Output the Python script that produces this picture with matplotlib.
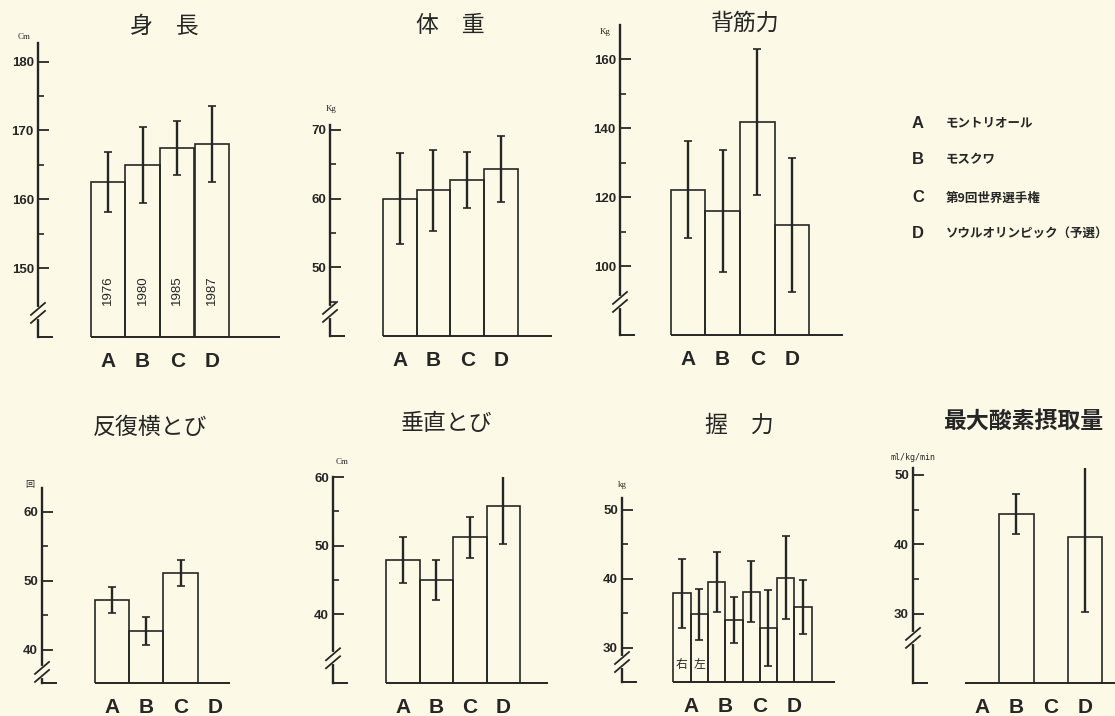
import numpy as np
import matplotlib.pyplot as plt

W, H = 1115, 716
BG = '#fcfae6'
INK = '#262626'
JP = ['Noto Sans CJK JP', 'DejaVu Sans']

plt.rcParams['font.family'] = ['Liberation Sans', 'Noto Sans CJK JP', 'DejaVu Sans']

letters = ['A', 'B', 'C', 'D']
legend_names = ['モントリオール', 'モスクワ', '第9回世界選手権', 'ソウルオリンピック（予選）']

# 身長 (cm)
height_mean = [162.5, 165.0, 167.5, 168.0]
height_sd = [4.3, 5.5, 3.9, 5.5]
years = ['1976', '1980', '1985', '1987']
# 体重 (kg)
weight_mean = [60.0, 61.2, 62.7, 64.3]
weight_sd = [6.6, 5.9, 4.1, 4.8]
# 背筋力 (kg)
back_mean = [122.2, 116.0, 141.8, 112.0]
back_sd = [14.0, 17.8, 21.3, 19.5]
# 反復横とび (回)
side_mean = [47.2, 42.7, 51.1, np.nan]
side_sd = [1.9, 2.0, 1.85, np.nan]
# 垂直とび (cm)
jump_mean = [47.9, 45.0, 51.2, 55.8]
jump_sd = [3.3, 2.85, 3.0, 5.5]
# 握力 (kg) 右 / 左
grip_right = [37.9, 39.5, 38.1, 40.15]
grip_right_sd = [5.0, 4.3, 4.4, 6.0]
grip_left = [34.8, 34.0, 32.8, 35.9]
grip_left_sd = [3.7, 3.3, 5.5, 3.9]
# 最大酸素摂取量 (ml/kg/min)
vo2_mean = [np.nan, 44.4, np.nan, 41.1]
vo2_sd = [np.nan, 2.9, np.nan, 10.9]

fig = plt.figure(figsize=(W / 100, H / 100), dpi=100, facecolor=BG)


def ftext(x, y, s, **kw):
    # place text with pixel coordinates of the page
    fig.text(x / W, 1 - y / H, s, **kw)


def title(x, y, s, **kw):
    ftext(x, y, s, ha='center', va='center', fontsize=16.5, family=JP, color=INK, **kw)


def panel(spine, right, top, base, ylim, bar_left, bar_w, major, minor, brk):
    ax = fig.add_axes([spine / W, 1 - base / H, (right - spine) / W, (base - top) / H])
    x0 = -0.5 - (bar_left - spine) / bar_w
    x1 = -0.5 + (right - bar_left) / bar_w
    ax.set_xlim(x0, x1)
    ax.set_ylim(*ylim)
    ax.patch.set_visible(False)
    for s in ['top', 'right', 'bottom']:
        ax.spines[s].set_visible(False)
    ax.spines['left'].set_linewidth(1.7)
    ax.spines['left'].set_color(INK)
    ax.set_yticks(major)
    ax.set_yticks(minor, minor=True)
    ax.tick_params(axis='y', which='major', direction='in', length=8, width=1.3,
                   color=INK, pad=3, labelsize=9.5, labelcolor=INK)
    ax.tick_params(axis='y', which='minor', direction='in', length=4.5, width=1.2, color=INK)
    for lab in ax.get_yticklabels():
        lab.set_fontweight('bold')
    # base line and small stub at the foot of the axis
    ax.hlines(ylim[0], -0.5, x1, color=INK, lw=1.4, clip_on=False)
    ax.hlines(ylim[0], x0, x0 + 15 / bar_w, color=INK, lw=1.4, clip_on=False)
    # break mark "//"
    ypp = (ylim[1] - ylim[0]) / (base - top)
    dx, dy, gap = 7 / bar_w, 6 * ypp, 4 * ypp
    ax.plot([x0, x0], [brk - gap, brk + gap], color=BG, lw=3, clip_on=False, zorder=5)
    for off in (-gap, gap):
        ax.plot([x0 - dx, x0 + dx], [brk + off - dy, brk + off + dy], color=INK,
                lw=1.3, clip_on=False, zorder=6)
    return ax


def bars(ax, x, vals, err, capsize=3):
    ax.bar(x, vals, width=1.0, bottom=0, facecolor='none', edgecolor=INK, linewidth=1.2, zorder=2)
    ax.errorbar(x, vals, yerr=err, fmt='none', ecolor=INK, elinewidth=1.7,
                capsize=capsize, capthick=1.2, zorder=3)


def xlabels(ax, pos):
    ax.set_xticks(pos)
    ax.set_xticklabels(letters, fontsize=15, fontweight='bold', color=INK)
    ax.tick_params(axis='x', length=0, pad=11)


idx = np.arange(4)

# 身長
ax1 = panel(38, 280, 43, 337, (140, 182.7), 90.7, 34.6,
            [150, 160, 170, 180], [155, 165, 175], 143.5)
bars(ax1, idx, height_mean, height_sd)
xlabels(ax1, idx)
for i, y in enumerate(years):
    ax1.text(i, 146.8, y, rotation=90, ha='center', va='center', fontsize=9.5, color=INK)
title(164, 26, '身　長')
ftext(24, 37, 'Cm', ha='center', va='center', fontsize=6.5, family='Liberation Serif', color=INK)

# 体重
ax2 = panel(330, 552, 125, 336, (40, 70.7), 382.7, 33.8,
            [50, 60, 70], [45, 55, 65], 43.5)
bars(ax2, idx, weight_mean, weight_sd)
xlabels(ax2, idx)
title(450, 26, '体　重')
ftext(331, 109, 'Kg', ha='center', va='center', fontsize=6.5, family='Liberation Serif', color=INK)

# 背筋力
ax3 = panel(620, 843, 25, 335, (80, 170), 670.7, 34.6,
            [100, 120, 140, 160], [110, 130, 150], 89.6)
bars(ax3, idx, back_mean, back_sd)
xlabels(ax3, idx)
title(745, 23, '背筋力')
ftext(605, 32, 'Kg', ha='center', va='center', fontsize=6.5, family='Liberation Serif', color=INK)

# legend
for i, (l, name) in enumerate(zip(letters, legend_names)):
    y = [123, 160, 198, 234][i]
    ftext(918, y, l, ha='center', va='center', fontsize=12, fontweight='bold', color=INK)
    ftext(946, y, name, ha='left', va='center', fontsize=9, fontweight='bold', family=JP, color=INK)

# 反復横とび
ax4 = panel(42, 230, 488, 683, (35.2, 63.4), 95, 34.2,
            [40, 50, 60], [45, 55], 36.8)
bars(ax4, idx, side_mean, side_sd)
xlabels(ax4, idx)
title(150, 427, '反復横とび')
ftext(30, 484, '回', ha='center', va='center', fontsize=6.5, family=JP, color=INK)

# 垂直とび
ax5 = panel(333, 548, 477, 683, (30, 60), 386, 33.5,
            [40, 50, 60], [45, 55], 33.6)
bars(ax5, idx, jump_mean, jump_sd)
xlabels(ax5, idx)
title(447, 423, '垂直とび')
ftext(342, 462, 'Cm', ha='center', va='center', fontsize=6.5, family='Liberation Serif', color=INK)

# 握力
ax6 = panel(622, 835, 498, 682, (25, 51.7), 673.3, 17.3,
            [30, 40, 50], [35, 45], 27.9)
gx = np.arange(8)
bars(ax6, gx[0::2], grip_right, grip_right_sd, capsize=3)
bars(ax6, gx[1::2], grip_left, grip_left_sd, capsize=3)
xlabels(ax6, gx[0::2] + 0.5)
ax6.text(0, 27.5, '右', ha='center', va='center', fontsize=8.5, family=JP, color=INK)
ax6.text(1, 27.5, '左', ha='center', va='center', fontsize=8.5, family=JP, color=INK)
title(739, 425, '握　力')
ftext(622, 485, 'kg', ha='center', va='center', fontsize=6.5, family='Liberation Serif', color=INK)

# 最大酸素摂取量
ax7 = panel(913, 1115, 468, 683, (20, 51), 965, 34.3,
            [30, 40, 50], [35, 45], 26.5)
bars(ax7, idx, vo2_mean, vo2_sd)
xlabels(ax7, idx)
title(1023, 422, '最大酸素摂取量', fontweight='bold')
ftext(913, 457, 'ml/kg/min', ha='center', va='center', fontsize=6,
      family='DejaVu Sans Mono', color=INK)

fig.savefig('out.png', dpi=100, facecolor=BG)
